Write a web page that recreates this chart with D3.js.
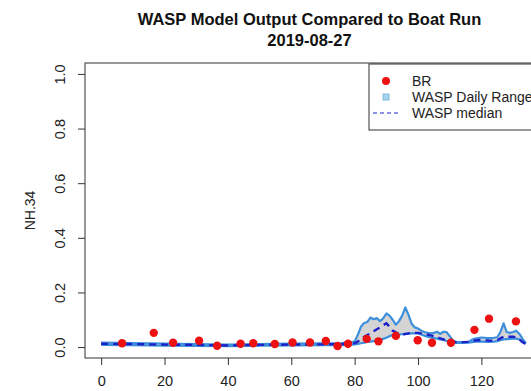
<!DOCTYPE html>
<html>
<head>
<meta charset="utf-8">
<script src="https://cdn.jsdelivr.net/npm/d3@7"></script>
<style>
  html, body { margin: 0; padding: 0; background: #fff; }
  svg { display: block; font-family: "Liberation Sans", Arial, sans-serif; }
</style>
</head>
<body>
<svg id="chart" width="531" height="391"></svg>
<script>
// Boat run samples (BR)
const brDay = [6.6, 16.6, 22.7, 30.9, 36.6, 44.0, 48.0, 54.8, 60.4, 65.9, 70.9, 74.6, 77.9, 83.8, 87.5, 93.0, 99.9, 104.4, 110.4, 117.8, 122.4, 130.9];
const brValue = [0.014, 0.052, 0.016, 0.023, 0.005, 0.012, 0.014, 0.011, 0.017, 0.017, 0.022, 0.004, 0.012, 0.030, 0.021, 0.041, 0.025, 0.016, 0.016, 0.063, 0.104, 0.094];

// WASP model output: daily range and median
const waspDay = [0, 10, 20, 30, 40, 50, 60, 70, 76, 78, 80, 81, 82, 83, 84, 85, 86, 87, 88, 89, 90, 91, 92, 93, 94, 95, 96, 97, 98, 99, 100, 101, 102, 103, 104, 105, 106, 107, 108, 109, 110, 111, 112, 114, 116, 117, 118, 120, 122, 124, 125, 126, 127, 128, 129, 130, 131, 132, 133, 134];
const waspUpper = [0.016, 0.015, 0.013, 0.011, 0.009, 0.011, 0.013, 0.014, 0.015, 0.016, 0.020, 0.045, 0.075, 0.088, 0.092, 0.108, 0.102, 0.106, 0.095, 0.105, 0.123, 0.115, 0.100, 0.082, 0.095, 0.115, 0.145, 0.118, 0.085, 0.072, 0.068, 0.060, 0.055, 0.052, 0.050, 0.052, 0.056, 0.048, 0.056, 0.055, 0.040, 0.024, 0.019, 0.018, 0.019, 0.027, 0.031, 0.035, 0.033, 0.034, 0.036, 0.055, 0.087, 0.055, 0.052, 0.055, 0.060, 0.048, 0.030, 0.014];
const waspLower = [0.008, 0.007, 0.005, 0.004, 0.003, 0.005, 0.006, 0.007, 0.007, 0.008, 0.010, 0.012, 0.014, 0.016, 0.019, 0.020, 0.022, 0.024, 0.026, 0.030, 0.034, 0.040, 0.044, 0.045, 0.046, 0.047, 0.048, 0.049, 0.050, 0.050, 0.050, 0.046, 0.042, 0.038, 0.035, 0.033, 0.031, 0.028, 0.026, 0.022, 0.018, 0.016, 0.015, 0.015, 0.016, 0.018, 0.020, 0.020, 0.019, 0.020, 0.022, 0.025, 0.028, 0.029, 0.030, 0.031, 0.031, 0.028, 0.020, 0.012];
const waspMedian = [0.012, 0.011, 0.009, 0.008, 0.006, 0.008, 0.009, 0.010, 0.011, 0.012, 0.014, 0.020, 0.030, 0.038, 0.044, 0.050, 0.058, 0.065, 0.072, 0.080, 0.087, 0.075, 0.060, 0.054, 0.048, 0.046, 0.048, 0.050, 0.051, 0.052, 0.052, 0.050, 0.047, 0.045, 0.043, 0.040, 0.036, 0.032, 0.028, 0.024, 0.021, 0.019, 0.018, 0.018, 0.019, 0.021, 0.024, 0.026, 0.024, 0.022, 0.025, 0.032, 0.038, 0.038, 0.038, 0.038, 0.036, 0.028, 0.018, 0.012];

const xTicks = [0, 20, 40, 60, 80, 100, 120];
const yTicks = [0, 0.2, 0.4, 0.6, 0.8, 1.0];
const legendLabels = ["BR", "WASP Daily Range", "WASP median"];

const svg = d3.select("#chart");
const box = { left: 85, right: 534, top: 63, bottom: 358 };

const x = d3.scaleLinear().domain([-5.1, 136.6]).range([box.left, box.right]);
const y = d3.scaleLinear().domain([-0.04, 1.04]).range([box.bottom, box.top]);

const waspRows = waspDay.map((d, i) => ({ day: d, lo: waspLower[i], hi: waspUpper[i], med: waspMedian[i] }));
const brRows = brDay.map((d, i) => ({ day: d, v: brValue[i] }));

const lineColor = "#3d8fdc";

// Daily range band
svg.append("path")
  .datum(waspRows)
  .attr("d", d3.area().x(d => x(d.day)).y0(d => y(d.lo)).y1(d => y(d.hi)))
  .attr("fill", "#d4d4d4")
  .attr("stroke", "none");

["hi", "lo"].forEach(k => {
  svg.append("path")
    .datum(waspRows)
    .attr("d", d3.line().x(d => x(d.day)).y(d => y(d[k])))
    .attr("fill", "none")
    .attr("stroke", lineColor)
    .attr("stroke-width", 2.2)
    .attr("stroke-linejoin", "round");
});

// Median
svg.append("path")
  .datum(waspRows)
  .attr("d", d3.line().x(d => x(d.day)).y(d => y(d.med)))
  .attr("fill", "none")
  .attr("stroke", "#1c22c8")
  .attr("stroke-width", 2.4)
  .attr("stroke-dasharray", "7,5");

// Boat run points
svg.append("g").selectAll("circle")
  .data(brRows)
  .join("circle")
  .attr("cx", d => x(d.day))
  .attr("cy", d => y(d.v))
  .attr("r", 4.2)
  .attr("fill", "#ee1111");

// Plot frame
svg.append("rect")
  .attr("x", box.left).attr("y", box.top)
  .attr("width", box.right - box.left).attr("height", box.bottom - box.top)
  .attr("fill", "none").attr("stroke", "#333").attr("stroke-width", 1);

// Axes
const xAxis = svg.append("g")
  .attr("transform", `translate(0,${box.bottom})`)
  .call(d3.axisBottom(x).tickValues(xTicks).tickSize(7).tickPadding(11).tickFormat(d3.format("d")));
const yAxis = svg.append("g")
  .attr("transform", `translate(${box.left},0)`)
  .call(d3.axisLeft(y).tickValues(yTicks).tickSize(7).tickPadding(5).tickFormat(d3.format(".1f")));

[xAxis, yAxis].forEach(a => {
  a.select(".domain").remove();
  a.selectAll(".tick line").attr("stroke", "#333");
  a.selectAll(".tick text").attr("font-size", 14.5).attr("fill", "#222")
    .attr("font-family", "Liberation Sans, Arial, sans-serif");
});
yAxis.selectAll(".tick text")
  .attr("transform", "rotate(-90)")
  .attr("x", 0).attr("dx", 0)
  .attr("y", -20)
  .attr("dy", "0")
  .attr("text-anchor", "middle");

// Axis title
svg.append("text")
  .attr("transform", `translate(35,${(box.top + box.bottom) / 2}) rotate(-90)`)
  .attr("text-anchor", "middle")
  .attr("font-size", 14)
  .attr("fill", "#222")
  .text("NH.34");

// Title
const cx = (box.left + box.right) / 2;
svg.append("text").attr("x", cx).attr("y", 25).attr("text-anchor", "middle")
  .attr("font-size", 16.5).attr("font-weight", "bold").attr("fill", "#111")
  .text("WASP Model Output Compared to Boat Run");
svg.append("text").attr("x", cx).attr("y", 46).attr("text-anchor", "middle")
  .attr("font-size", 16.5).attr("font-weight", "bold").attr("fill", "#111")
  .text("2019-08-27");

// Legend
const lg = svg.append("g").attr("transform", "translate(369,64)");
lg.append("rect").attr("width", 200).attr("height", 66)
  .attr("fill", "#fff").attr("stroke", "#333").attr("stroke-width", 1);
const rowY = [17, 33, 49];
lg.append("circle").attr("cx", 17).attr("cy", rowY[0]).attr("r", 4).attr("fill", "#ee1111");
lg.append("rect").attr("x", 14).attr("y", rowY[1] - 3).attr("width", 6).attr("height", 6)
  .attr("fill", "#a9d3ea").attr("stroke", "#6aaed6").attr("stroke-width", 0.8);
lg.append("line").attr("x1", 4).attr("x2", 29).attr("y1", rowY[2]).attr("y2", rowY[2])
  .attr("stroke", "#1c22c8").attr("stroke-width", 1).attr("stroke-dasharray", "4,3");
lg.selectAll("text.lab").data(legendLabels).join("text")
  .attr("class", "lab")
  .attr("x", 43).attr("y", (d, i) => rowY[i]).attr("dy", "0.35em")
  .attr("font-size", 14).attr("fill", "#222")
  .text(d => d);
</script>
</body>
</html>
